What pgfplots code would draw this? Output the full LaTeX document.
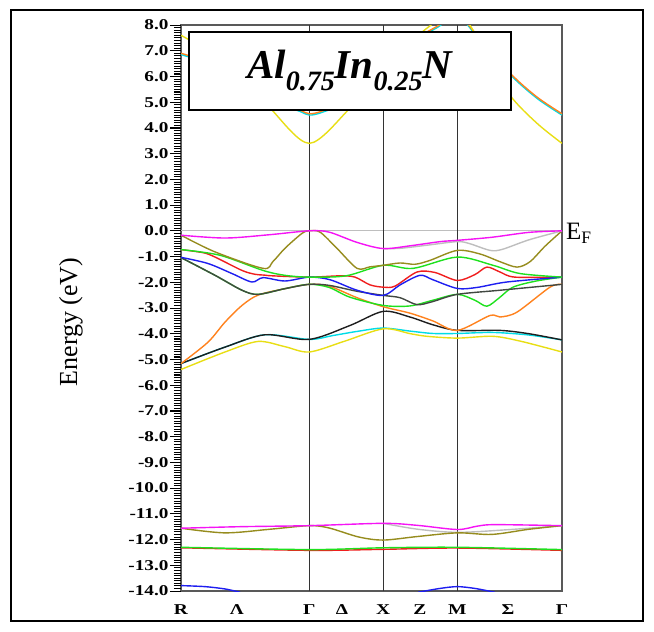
\documentclass[border=0pt]{standalone}
\usepackage{fontspec}
\setmainfont{Liberation Serif}
\usepackage{graphicx}
\usepackage{pgfplots}
\pgfplotsset{compat=1.18}
\definecolor{bmag}{RGB}{245,20,245}
\definecolor{bolive}{RGB}{150,140,30}
\definecolor{bgreen}{RGB}{30,225,30}
\definecolor{bred}{RGB}{240,30,30}
\definecolor{bblue}{RGB}{30,30,240}
\definecolor{bdgray}{RGB}{65,72,65}
\definecolor{borange}{RGB}{255,130,30}
\definecolor{bblack}{RGB}{30,30,30}
\definecolor{bcyan}{RGB}{0,220,230}
\definecolor{byellow}{RGB}{232,222,20}
\definecolor{bgray}{RGB}{190,190,190}
\newcommand{\xl}[1]{\scalebox{1.3}[1]{#1}}
\newcommand{\sub}[1]{\raisebox{-0.3em}{\fontsize{28}{28}\selectfont #1}}
\begin{document}
\begin{tikzpicture}
\path (0,0) rectangle (654pt,-632pt);
\draw[line width=1.5pt] (11pt,-10pt) rectangle (643pt,-621pt);
\begin{axis}[
  at={(181pt,-591pt)}, anchor=south west,
  scale only axis, width=381pt, height=566pt,
  xmin=0, xmax=2.573, ymin=-14, ymax=8,
  axis line style={draw=gray!70!black, line width=1.3pt},
  xtick={0,0.378,0.866,1.087,1.366,1.614,1.866,2.208,2.573},
  xticklabels={\xl{R},\xl{Λ},\xl{Γ},\xl{Δ},\xl{X},\xl{Z},\xl{M},\xl{Σ},\xl{Γ}},
  xtick style={draw=none},
  xticklabel style={font=\fontsize{15}{15}\selectfont\bfseries, yshift=1pt},
  ytick distance=1, minor y tick num=9,
  ytick pos=left, tick align=outside,
  tickwidth=11pt, subtickwidth=7pt,
  ytick style={draw=black, line width=0.8pt},
  yticklabel style={font=\fontsize{15}{15}\selectfont\bfseries, xshift=2pt, /pgf/number format/fixed, /pgf/number format/fixed zerofill, /pgf/number format/precision=1, /pgf/number format/assume math mode=true},
  yticklabel={\scalebox{1.28}[1]{\pgfmathprintnumber{\tick}}},
  every axis plot/.append style={line width=1.4pt, smooth, tension=0.5},
]
\addplot[bgray, line width=1pt, sharp plot] coordinates {(0,0) (2.573,0)};
\addplot[black!80, line width=1.3pt, sharp plot] coordinates {(0.866,-14) (0.866,8)};
\addplot[black!80, line width=1.3pt, sharp plot] coordinates {(1.366,-14) (1.366,8)};
\addplot[black!80, line width=1.3pt, sharp plot] coordinates {(1.866,-14) (1.866,8)};
% ---- conduction bands ----
\addplot[bcyan] coordinates {(0,6.85) (0.3,6.25) (0.615,5.05) (0.80,4.65) (0.866,4.5) (0.95,4.6) (1.128,5.05) (1.366,6.35) (1.6,7.45) (1.73,7.9) (1.866,8.35) (2.0,7.55) (2.222,6.08) (2.404,5.15) (2.573,4.5)};
\addplot[borange] coordinates {(0,6.9) (0.3,6.3) (0.615,5.1) (0.80,4.7) (0.866,4.55) (0.95,4.65) (1.128,5.1) (1.366,6.4) (1.6,7.5) (1.73,7.95) (1.866,8.4) (2.0,7.6) (2.222,6.13) (2.404,5.2) (2.573,4.55)};
\addplot[byellow] coordinates {(0,7.6) (0.4,6.2) (0.615,4.69) (0.866,3.4) (1.128,4.69) (1.366,6.3) (1.6,7.6) (1.866,8.5) (2.05,7.0) (2.222,5.27) (2.404,4.18) (2.573,3.4)};
% ---- valence bands ----
\addplot[bcyan] coordinates {(0,-5.16) (0.297,-4.52) (0.567,-4.04) (0.866,-4.22) (1.026,-4.07) (1.2,-3.9) (1.366,-3.78) (1.55,-3.9) (1.702,-3.99) (1.866,-3.99) (2.107,-3.95) (2.35,-4.05) (2.573,-4.24)};
\addplot[bblack] coordinates {(0,-5.16) (0.297,-4.52) (0.567,-4.04) (0.866,-4.22) (1.141,-3.68) (1.366,-3.13) (1.546,-3.35) (1.70,-3.65) (1.866,-3.87) (2.154,-3.87) (2.35,-4.0) (2.573,-4.24)};
\addplot[byellow] coordinates {(0,-5.39) (0.297,-4.71) (0.52,-4.3) (0.70,-4.5) (0.866,-4.71) (1.1,-4.3) (1.366,-3.81) (1.55,-4.0) (1.661,-4.1) (1.866,-4.17) (2.107,-4.1) (2.3,-4.3) (2.573,-4.71)};
\addplot[borange] coordinates {(0,-5.16) (0.182,-4.33) (0.297,-3.55) (0.412,-2.9) (0.52,-2.5) (0.70,-2.25) (0.866,-2.08) (1.0,-2.15) (1.189,-2.6) (1.366,-2.95) (1.546,-3.2) (1.70,-3.5) (1.866,-3.87) (2.087,-3.29) (2.154,-3.35) (2.269,-3.16) (2.492,-2.19) (2.573,-2.08)};
\addplot[bgreen] coordinates {(0,-1.04) (0.23,-1.73) (0.412,-2.31) (0.52,-2.47) (0.70,-2.25) (0.866,-2.08) (1.0,-2.2) (1.141,-2.58) (1.366,-2.9) (1.546,-2.92) (1.70,-2.7) (1.866,-2.47) (1.985,-2.7) (2.066,-2.93) (2.15,-2.6) (2.242,-2.19) (2.40,-1.95) (2.573,-1.8)};
\addplot[bdgray] coordinates {(0,-1.04) (0.23,-1.73) (0.412,-2.31) (0.52,-2.47) (0.70,-2.25) (0.866,-2.08) (1.0,-2.12) (1.189,-2.35) (1.366,-2.51) (1.48,-2.6) (1.594,-2.87) (1.70,-2.75) (1.866,-2.47) (2.154,-2.31) (2.573,-2.08)};
\addplot[bred] coordinates {(0,-0.73) (0.15,-0.85) (0.23,-1.02) (0.412,-1.54) (0.50,-1.69) (0.56,-1.72) (0.62,-1.75) (0.866,-1.8) (1.074,-1.75) (1.175,-1.8) (1.276,-2.1) (1.366,-2.19) (1.445,-2.15) (1.594,-1.6) (1.715,-1.62) (1.866,-1.93) (1.985,-1.7) (2.066,-1.41) (2.154,-1.6) (2.255,-1.8) (2.573,-1.8)};
\addplot[bblue] coordinates {(0,-1.03) (0.182,-1.27) (0.344,-1.66) (0.479,-1.99) (0.554,-1.82) (0.702,-1.95) (0.866,-1.8) (1.006,-1.9) (1.189,-2.31) (1.366,-2.51) (1.48,-2.1) (1.614,-1.73) (1.70,-1.9) (1.866,-2.24) (2.0,-2.2) (2.2,-1.99) (2.573,-1.8)};
\addplot[bgreen] coordinates {(0,-0.73) (0.263,-0.95) (0.554,-1.54) (0.702,-1.73) (0.866,-1.8) (1.114,-1.75) (1.366,-1.34) (1.567,-1.46) (1.866,-1.02) (2.107,-1.34) (2.289,-1.66) (2.573,-1.8)};
\addplot[bolive] coordinates {(0,-0.17) (0.23,-0.82) (0.554,-1.46) (0.62,-1.2) (0.702,-0.68) (0.817,-0.1) (0.866,0) (0.939,-0.05) (1.053,-0.68) (1.189,-1.46) (1.276,-1.4) (1.366,-1.34) (1.479,-1.25) (1.58,-1.3) (1.681,-1.15) (1.866,-0.76) (2.019,-0.9) (2.154,-1.2) (2.269,-1.41) (2.357,-1.2) (2.458,-0.6) (2.573,0)};
\addplot[bgray] coordinates {(1.366,-0.69) (1.48,-0.68) (1.66,-0.56) (1.866,-0.42) (1.95,-0.5) (2.087,-0.76) (2.17,-0.72) (2.35,-0.35) (2.573,0)};
\addplot[bmag] coordinates {(0,-0.17) (0.3,-0.28) (0.6,-0.15) (0.866,0) (1.0,-0.05) (1.189,-0.45) (1.366,-0.69) (1.55,-0.58) (1.75,-0.42) (1.866,-0.37) (2.1,-0.25) (2.35,-0.06) (2.573,0)};
% ---- semicore bands ----
\addplot[bred] coordinates {(0,-12.32) (0.866,-12.42) (1.366,-12.38) (1.866,-12.33) (2.573,-12.42)};
\addplot[bgreen] coordinates {(0,-12.30) (0.866,-12.39) (1.366,-12.32) (1.866,-12.30) (2.573,-12.39)};
\addplot[bgray] coordinates {(1.366,-11.37) (1.60,-11.6) (1.866,-11.72) (2.2,-11.62) (2.573,-11.46)};
\addplot[bolive] coordinates {(0,-11.56) (0.297,-11.74) (0.6,-11.6) (0.866,-11.46) (1.0,-11.55) (1.2,-11.9) (1.366,-12.02) (1.6,-11.88) (1.866,-11.74) (2.1,-11.8) (2.35,-11.6) (2.573,-11.46)};
\addplot[bmag] coordinates {(0,-11.56) (0.4,-11.5) (0.866,-11.46) (1.366,-11.37) (1.6,-11.45) (1.866,-11.61) (2.0,-11.48) (2.12,-11.42) (2.573,-11.46)};
\addplot[bblue] coordinates {(0,-13.79) (0.162,-13.83) (0.297,-13.92) (0.40,-14.05)};
\addplot[bblue] coordinates {(1.60,-14.05) (1.749,-13.9) (1.866,-13.83) (1.985,-13.9) (2.12,-14.05)};
\end{axis}
% tick marks of the energy axis: minor every 0.1 eV, major every 1 eV
\foreach \k in {0,...,220} {
  \pgfmathsetmacro{\yy}{-25-2.572727*\k}
  \draw[black, line width=0.75pt] (174pt,\yy pt) -- (181pt,\yy pt);
}
\foreach \k in {0,...,22} {
  \pgfmathsetmacro{\yy}{-25-25.72727*\k}
  \draw[black, line width=0.9pt] (170pt,\yy pt) -- (181pt,\yy pt);
}
\node[anchor=west, inner sep=0pt, font=\fontsize{25}{25}\selectfont] at (566pt,-233pt) {E\textsubscript{F}};
\node[rotate=90, font=\fontsize{26}{26}\selectfont, inner sep=0pt] at (71pt,-322pt) {Energy (eV)};
\node[draw=black, fill=white, line width=1.5pt, minimum width=322pt, minimum height=78pt, inner sep=0pt, anchor=north west, font=\fontsize{41}{41}\selectfont\bfseries\itshape] at (188pt,-31pt) {Al\sub{0.75}In\sub{0.25}N};
\end{tikzpicture}
\end{document}
